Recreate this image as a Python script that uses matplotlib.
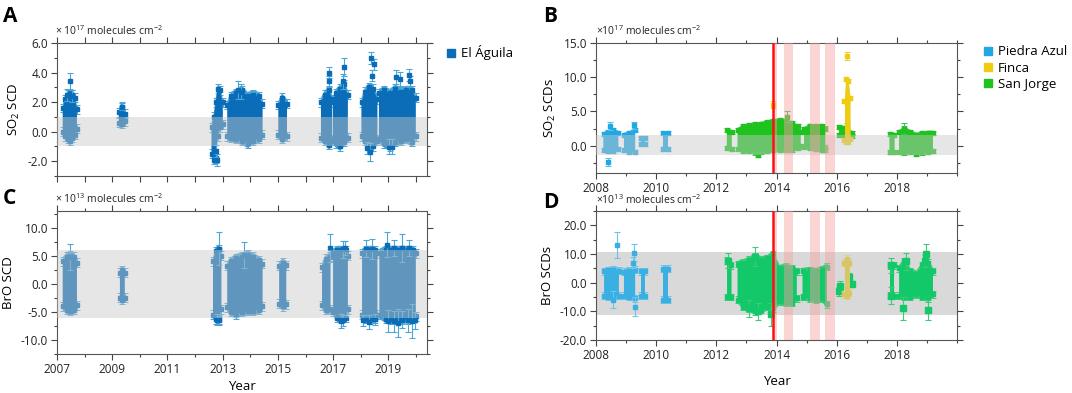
import numpy as np
import matplotlib
matplotlib.use("Agg")
import matplotlib.pyplot as plt
from matplotlib.lines import Line2D
from matplotlib.ticker import MultipleLocator, FormatStrFormatter

plt.rcParams['font.family'] = ['Open Sans', 'DejaVu Sans']
plt.rcParams['mathtext.default'] = 'regular'

nan = np.nan

# ---- Panel A: SO2 SCD, El Aguila (x 1e17), cluster envelopes separated by nan
a_t  = [2007.21, 2007.3, 2007.4, 2007.47, 2007.55, 2007.65, 2007.72, nan,
        2009.24, 2009.35, 2009.47, nan,
        2012.6, 2012.68, 2012.75, 2012.82, 2012.9, 2013.0, nan,
        2013.17, 2013.3, 2013.5, 2013.7, 2013.9, 2014.1, 2014.3, 2014.44, nan,
        2015.02, 2015.15, 2015.33, nan,
        2016.56, 2016.7, 2016.85, 2016.96, nan,
        2016.99, 2017.1, 2017.25, 2017.4, 2017.53, nan,
        2018.03, 2018.15, 2018.3, 2018.45, 2018.6, nan,
        2018.66, 2018.85, 2019.05, 2019.25, 2019.45, 2019.65, 2019.85, 2019.99]
a_hi = [1.6, 2.2, 2.5, 2.6, 2.5, 2.3, 1.5, nan,
        1.3, 1.7, 1.2, nan,
        0.3, 1.0, 2.0, 2.9, 2.8, 2.0, nan,
        1.8, 2.4, 2.6, 2.8, 2.4, 2.5, 2.4, 1.9, nan,
        1.8, 2.3, 1.9, nan,
        2.0, 2.5, 2.8, 2.2, nan,
        2.0, 2.6, 2.9, 3.2, 2.5, nan,
        2.0, 2.7, 3.0, 2.9, 2.2, nan,
        2.6, 2.8, 2.6, 2.9, 2.7, 2.8, 2.8, 2.3]
a_lo = [0.0, -0.3, -0.5, -0.6, -0.4, -0.2, 0.2, nan,
        0.6, 0.55, 0.7, nan,
        -1.5, -1.9, -1.8, -0.3, 0.3, 0.5, nan,
        -0.3, -0.4, -0.5, -0.6, -0.8, -0.6, -0.5, -0.2, nan,
        -0.2, -0.5, -0.3, nan,
        -0.4, -0.6, -0.9, -0.6, nan,
        -0.5, -0.8, -1.0, -0.7, -0.4, nan,
        -0.3, -0.6, -0.9, -1.0, -0.6, nan,
        -0.5, -0.8, -1.0, -0.7, -0.6, -0.5, -0.7, -0.3]
a_err = 0.3
a_pt_t = [2007.48, 2007.35, 2007.55, 2009.35, 2012.78, 2012.76, 2013.55, 2013.65,
          2016.84, 2016.84, 2017.39, 2017.37, 2018.36, 2018.48, 2018.42,
          2018.24, 2018.33, 2019.02, 2019.15, 2019.27, 2019.42, 2019.75, 2019.78]
a_pt_y = [3.4, 2.5, 2.4, 1.7, -1.9, -1.3, 2.8, 2.7,
          4.0, 3.4, 4.4, 3.4, 4.97, 4.55, 3.8,
          -1.08, -1.36, -1.03, -1.03, 3.7, 3.56, 3.86, 3.4]
a_pt_e = [0.6, 0.4, 0.4, 0.25, 0.4, 0.4, 0.6, 0.5,
          0.4, 0.4, 0.6, 0.5, 0.4, 0.4, 0.4,
          0.4, 0.6, 0.5, 0.5, 0.5, 0.5, 0.4, 0.4]

# ---- Panel C: BrO SCD, El Aguila (x 1e13)
c_t  = [2007.21, 2007.35, 2007.47, 2007.6, 2007.72, nan,
        2009.28, 2009.37, 2009.45, nan,
        2012.65, 2012.75, 2012.85, 2012.95, nan,
        2013.17, 2013.3, 2013.5, 2013.7, 2013.9, 2014.1, 2014.3, 2014.44, nan,
        2015.05, 2015.18, 2015.3, nan,
        2016.6, 2016.75, 2016.9, nan,
        2017.0, 2017.15, 2017.3, 2017.45, 2017.53, nan,
        2018.05, 2018.2, 2018.35, 2018.5, 2018.6, nan,
        2018.68, 2018.9, 2019.1, 2019.3, 2019.5, 2019.7, 2019.9, 2019.99]
c_hi = [4.0, 4.8, 5.0, 4.8, 3.8, nan,
        2.0, 2.4, 2.0, nan,
        4.0, 5.8, 6.2, 5.0, nan,
        3.2, 4.0, 4.6, 4.8, 5.2, 4.8, 4.2, 3.6, nan,
        3.2, 3.8, 3.3, nan,
        3.0, 4.5, 4.8, nan,
        5.5, 6.0, 6.0, 6.0, 5.0, nan,
        5.5, 6.0, 6.0, 6.0, 5.5, nan,
        5.5, 6.0, 6.0, 6.0, 6.0, 6.0, 6.0, 5.5]
c_lo = [-4.0, -4.6, -4.8, -4.6, -3.8, nan,
        -2.5, -2.8, -2.5, nan,
        -5.5, -6.3, -6.3, -4.5, nan,
        -4.2, -5.0, -5.4, -5.0, -4.8, -4.8, -4.6, -4.0, nan,
        -3.5, -4.0, -3.6, nan,
        -3.8, -4.6, -4.5, nan,
        -5.0, -6.0, -6.2, -6.0, -4.5, nan,
        -5.5, -6.2, -6.3, -6.2, -5.5, nan,
        -5.5, -6.2, -6.3, -6.3, -6.3, -6.3, -6.2, -5.8]
c_err = 0.8
c_pt_t = [2007.47, 2013.78, 2012.88, 2012.8, 2012.85, 2016.88, 2017.35, 2017.42,
          2017.3, 2017.35, 2018.2, 2018.4, 2018.1, 2018.3, 2018.5,
          2018.95, 2019.2, 2019.5, 2019.75, 2019.0, 2019.2, 2019.35,
          2019.5, 2019.7, 2019.85, 2019.95]
c_pt_y = [4.8, 5.2, 6.3, -6.4, -6.5, 6.4, 6.2, 6.4,
          -6.6, -6.5, 6.3, 6.2, -6.5, -6.8, -6.3,
          7.0, 6.4, 6.4, 6.4, -6.6, -6.7, -6.9,
          -6.4, -6.5, -6.6, -6.5]
c_pt_e = [2.4, 2.3, 3.0, 1.0, 0.8, 2.5, 1.5, 1.2,
          1.3, 1.0, 1.5, 1.8, 1.0, 1.2, 1.0,
          2.2, 1.5, 2.5, 1.5, 2.0, 1.8, 2.5,
          1.5, 2.0, 3.0, 1.5]

# ---- Panel B: SO2 SCDs (x 1e17)
b_pa_t  = [2008.25, 2008.4, 2008.55, 2008.74, nan, 2008.93, 2009.1, 2009.3, nan,
           2009.5, 2009.63, nan, 2010.24, 2010.4]
b_pa_hi = [1.7, 2.0, 2.3, 1.9, nan, 1.6, 1.8, 2.3, nan, 1.1, 1.1, nan, 1.8, 1.8]
b_pa_lo = [-0.6, -0.8, -0.8, -0.5, nan, -0.6, -0.9, -0.9, nan, 0.3, 0.3, nan, -0.5, -0.5]
b_pa_pt_t = [2008.45, 2008.4, 2009.25]
b_pa_pt_y = [2.9, -2.4, 3.0]
b_pa_pt_e = [0.6, 0.6, 0.5]

b_fi_t  = [2016.26, 2016.3, 2016.38, 2016.44]
b_fi_hi = [6.5, 9.7, 9.5, 7.0]
b_fi_lo = [0.8, 0.5, 0.5, 1.0]
b_fi_pt_t = [2016.33, 2013.88]
b_fi_pt_y = [13.1, 6.0]
b_fi_pt_e = [0.6, 0.5]

b_sj_t  = [2012.35, 2012.51, nan,
           2012.71, 2012.9, 2013.1, 2013.3, 2013.5, 2013.7, 2013.9, 2014.1, 2014.3,
           2014.5, 2014.7, 2014.8, nan,
           2014.92, 2015.1, 2015.3, 2015.5, 2015.62, nan,
           2016.08, 2016.2, 2016.28, 2016.38, 2016.5, nan,
           2017.76, 2017.92, nan,
           2018.08, 2018.25, 2018.45, 2018.65, 2018.85, 2019.05, 2019.2]
b_sj_hi = [2.3, 2.0, nan,
           2.3, 2.8, 3.0, 3.1, 3.2, 3.4, 3.6, 3.7, 3.6, 3.3, 2.8, 2.0, nan,
           2.4, 2.9, 2.8, 2.9, 2.5, nan,
           2.7, 2.6, 2.2, 2.0, 1.8, nan,
           1.7, 1.6, nan,
           2.0, 2.5, 2.0, 1.6, 1.8, 1.9, 1.9]
b_sj_lo = [-0.4, -0.5, nan,
           -0.5, -0.8, -0.8, -1.0, -0.9, -0.8, -0.7, -0.6, -0.7, -0.6, -0.4, 0.0, nan,
           -0.2, -0.4, -0.5, -0.6, -0.2, nan,
           1.5, 1.5, 1.5, 1.5, 1.4, nan,
           -0.9, -0.9, nan,
           -0.9, -1.0, -0.9, -1.2, -1.0, -0.9, -0.8]
b_sj_pt_t = [2014.35, 2013.4, 2015.25, 2015.6, 2016.35, 2018.25]
b_sj_pt_y = [4.2, -1.3, -0.4, -0.7, 2.7, 2.5]
b_sj_pt_e = [0.8, 0.4, 0.3, 0.3, 0.6, 0.8]
b_err = 0.3

# ---- Panel D: BrO SCDs (x 1e13)
d_pa_t  = [2008.27, 2008.4, 2008.55, 2008.76, nan, 2008.93, 2009.1, 2009.3, nan,
           2009.5, 2009.63, nan, 2010.24, 2010.4]
d_pa_hi = [4.0, 4.3, 4.5, 4.2, nan, 3.8, 4.2, 4.5, nan, 4.0, 4.0, nan, 4.8, 4.8]
d_pa_lo = [-4.5, -5.0, -5.0, -4.5, nan, -4.5, -5.0, -5.5, nan, -4.5, -4.5, nan, -6.0, -6.0]
d_pa_pt_t = [2008.7, 2009.25, 2009.28, 2009.22, 2008.55]
d_pa_pt_y = [13.1, 10.5, -8.4, 7.0, -6.0]
d_pa_pt_e = [4.5, 3.0, 3.3, 2.0, 3.0]

d_fi_t  = [2016.26, 2016.34, 2016.42]
d_fi_hi = [7.0, 8.3, 7.0]
d_fi_lo = [-4.0, -4.5, -3.5]

d_sj_t  = [2012.36, 2012.5, nan,
           2012.71, 2012.9, 2013.1, 2013.3, 2013.5, 2013.7, 2013.88, 2014.1, 2014.3,
           2014.5, 2014.67, nan,
           2014.87, 2015.1, 2015.3, 2015.5, 2015.67, nan,
           2017.76, 2017.92, nan,
           2018.08, 2018.25, 2018.45, 2018.65, 2018.85, 2019.05, 2019.2]
d_sj_hi = [7.7, 6.0, nan,
           6.5, 7.0, 8.0, 9.0, 8.0, 8.5, 10.0, 5.0, 5.5, 5.0, 4.0, nan,
           4.0, 4.3, 4.0, 4.5, 5.5, nan,
           6.0, 6.0, nan,
           5.0, 7.5, 4.0, 3.0, 6.0, 7.0, 4.0]
d_sj_lo = [-5.0, -5.0, nan,
           -6.0, -8.5, -9.0, -10.0, -9.5, -8.5, -9.0, -6.5, -7.0, -7.0, -5.5, nan,
           -5.0, -5.5, -6.0, -5.5, -7.5, nan,
           -4.5, -4.5, nan,
           -4.5, -5.0, -5.0, -4.0, -5.0, -5.5, -4.0]
d_sj_pt_t = [2012.38, 2013.3, 2013.4, 2013.82, 2013.1, 2017.8, 2017.8, 2018.22,
             2018.3, 2018.98, 2019.05, 2018.95, 2016.1, 2016.08, 2016.42, 2016.5]
d_sj_pt_y = [7.7, 9.0, -10.0, -11.0, -9.0, 6.0, -4.5, -9.0,
             7.5, 10.0, -9.5, 7.5, -1.0, -3.0, 2.0, -0.3]
d_sj_pt_e = [2.5, 3.3, 3.0, 4.0, 3.0, 2.5, 3.0, 4.0,
             3.0, 3.5, 3.5, 2.0, 1.5, 1.5, 1.5, 1.0]
d_err = 1.2

eruption = 2013.88
pink_spans = [(2013.88, 2014.02), (2014.25, 2014.56), (2015.12, 2015.43), (2015.61, 2015.93)]

# colours
ag_c, ag_e = "#0b6db7", "#4aa5d8"
pa_c, pa_e = "#1fa8e4", "#5cc0ea"
fi_c, fi_e = "#f0cc10", "#e8d060"
sj_c, sj_e = "#1ec31e", "#3cc060"


def cloud(ax, t, lo, hi, err, c, ec, ms=3, z=2):
    t, lo, hi = np.array(t), np.array(lo), np.array(hi)
    ax.fill_between(t, lo - err, hi + err, color=ec, lw=0, zorder=z)
    ax.fill_between(t, lo, hi, color=c, lw=0, zorder=z + 0.1)
    # ragged edges: the envelope nodes themselves as error-bar points
    ax.errorbar(t, hi, yerr=err, fmt='s', ms=ms, color=c, ecolor=ec, elinewidth=0.7,
                capsize=2, capthick=0.7, zorder=z + 0.05)
    ax.errorbar(t, lo, yerr=err, fmt='s', ms=ms, color=c, ecolor=ec, elinewidth=0.7,
                capsize=2, capthick=0.7, zorder=z + 0.05)


def points(ax, t, y, e, c, ec, ms=3.5, z=2.5):
    ax.errorbar(t, y, yerr=e, fmt='s', ms=ms, color=c, ecolor=ec, elinewidth=0.8,
                capsize=2.5, capthick=0.8, zorder=z)


def style(ax, xlim, ylim, xmaj, ymaj, ymin, xlabels=True):
    ax.set_xlim(*xlim)
    ax.set_ylim(*ylim)
    ax.xaxis.set_major_locator(MultipleLocator(xmaj))
    ax.xaxis.set_minor_locator(MultipleLocator(1))
    ax.yaxis.set_major_locator(MultipleLocator(ymaj))
    ax.yaxis.set_minor_locator(MultipleLocator(ymin))
    ax.yaxis.set_major_formatter(FormatStrFormatter('%.1f'))
    ax.tick_params(which='both', direction='out', top=True, right=True,
                   labelsize=8.5, color='#444444', labelcolor='#222222', width=0.8, pad=2.5)
    ax.tick_params(which='major', length=4)
    ax.tick_params(which='minor', length=2.5)
    if not xlabels:
        ax.tick_params(axis='x', labelbottom=False)
    for s in ax.spines.values():
        s.set_color('#555555')
        s.set_linewidth(0.8)


fig = plt.figure(figsize=(10.72, 3.93), dpi=100)
axA = fig.add_axes([57/1072, 1-176/393, 370/1072, 133/393])
axC = fig.add_axes([57/1072, 1-354/393, 370/1072, 143/393])
axB = fig.add_axes([596/1072, 1-173/393, 361/1072, 130/393])
axD = fig.add_axes([596/1072, 1-340/393, 361/1072, 129/393])

band_alpha = 0.45

# A
cloud(axA, a_t, a_lo, a_hi, a_err, ag_c, ag_e)
points(axA, a_pt_t, a_pt_y, a_pt_e, ag_c, ag_e)
axA.axhspan(-1.0, 1.0, color='#c8c8c8', alpha=band_alpha, lw=0, zorder=3)
style(axA, (2007, 2020.4), (-3, 6), 2, 2, 1, xlabels=False)
axA.xaxis.set_major_locator(MultipleLocator(1))
axA.set_ylabel('SO$_2$ SCD', fontsize=9.5, labelpad=4)

# C
cloud(axC, c_t, c_lo, c_hi, c_err, ag_c, ag_e)
points(axC, c_pt_t, c_pt_y, c_pt_e, ag_c, ag_e)
axC.axhspan(-6.0, 6.0, color='#c8c8c8', alpha=band_alpha, lw=0, zorder=3)
style(axC, (2007, 2020.4), (-12.5, 13.0), 2, 5, 2.5)
axC.set_xticks(np.arange(2007, 2021, 2))
axC.set_ylabel('BrO SCD', fontsize=9.5, labelpad=4)
axC.set_xlabel('Year', fontsize=9.5, labelpad=3)

# B
cloud(axB, b_pa_t, b_pa_lo, b_pa_hi, b_err, pa_c, pa_e, ms=2.5)
points(axB, b_pa_pt_t, b_pa_pt_y, b_pa_pt_e, pa_c, pa_e, ms=3)
cloud(axB, b_sj_t, b_sj_lo, b_sj_hi, b_err, sj_c, sj_e, ms=2.5)
points(axB, b_sj_pt_t, b_sj_pt_y, b_sj_pt_e, sj_c, sj_e, ms=3)
cloud(axB, b_fi_t, b_fi_lo, b_fi_hi, b_err, fi_c, fi_e, ms=2.5, z=2.6)
points(axB, b_fi_pt_t, b_fi_pt_y, b_fi_pt_e, fi_c, fi_e, ms=3, z=2.7)
axB.axhspan(-1.3, 1.5, color='#c8c8c8', alpha=band_alpha, lw=0, zorder=3)
style(axB, (2008, 2020), (-4, 15), 2, 5, 2.5)
axB.set_xticks(np.arange(2008, 2020, 2))

# D
axD.axhspan(-11.3, 10.8, color='#d9d9d9', lw=0, zorder=0)
cloud(axD, d_pa_t, d_pa_lo, d_pa_hi, d_err, "#3aafe2", "#6cc4ec", ms=2.5)
points(axD, d_pa_pt_t, d_pa_pt_y, d_pa_pt_e, "#3aafe2", "#6cc4ec", ms=3)
cloud(axD, d_sj_t, d_sj_lo, d_sj_hi, d_err, "#12c868", "#3ccc78", ms=3)
points(axD, d_sj_pt_t, d_sj_pt_y, d_sj_pt_e, "#12c868", "#3ccc78", ms=4)
cloud(axD, d_fi_t, d_fi_lo, d_fi_hi, d_err, "#d8c666", "#e0d08a", ms=2.5, z=2.6)
style(axD, (2008, 2020), (-20, 25), 2, 10, 5)
axD.set_xticks(np.arange(2008, 2020, 2))
axD.set_xlabel('Year', fontsize=9.5, labelpad=9)

for ax, lab in [(axB, 'SO$_2$ SCDs'), (axD, 'BrO SCDs')]:
    for s0, s1 in pink_spans:
        ax.axvspan(s0, s1, color='#f7a0a0', alpha=0.45, lw=0, zorder=4)
    ax.axvline(eruption, color='#ff1010', lw=1.8, zorder=5)
    ax.set_ylabel(lab, fontsize=9.5, labelpad=4)

# unit labels
unit_kw = dict(fontsize=7.5, color='#222222', va='center', ha='left')
axA.text(-0.005, 1.09, r'$\times$ 10$^{17}$ molecules cm$^{-2}$', transform=axA.transAxes, **unit_kw)
axC.text(-0.005, 1.08, r'$\times$ 10$^{13}$ molecules cm$^{-2}$', transform=axC.transAxes, **unit_kw)
axB.text(0.0, 1.09, r'$\times$10$^{17}$ molecules cm$^{-2}$', transform=axB.transAxes, **unit_kw)
axD.text(0.0, 1.085, r'$\times$10$^{13}$ molecules cm$^{-2}$', transform=axD.transAxes, **unit_kw)

# panel letters
for x, y, s in [(3, 16, 'A'), (3, 199, 'C'), (543, 17, 'B'), (543, 203, 'D')]:
    fig.text(x/1072, 1-y/393, s, fontsize=15, fontweight='bold', va='center', ha='left')

# legends
fig.legend(handles=[Line2D([], [], ls='none', marker='s', ms=6, color=ag_c, label='El Águila')],
           loc='upper left', bbox_to_anchor=(440/1072, 1-40/393), frameon=False,
           fontsize=9.5, handlelength=0.8, handletextpad=0.4, borderaxespad=0)
fig.legend(handles=[Line2D([], [], ls='none', marker='s', ms=6, color=c, label=l)
                    for c, l in [(pa_c, 'Piedra Azul'), (fi_c, 'Finca'), (sj_c, 'San Jorge')]],
           loc='upper left', bbox_to_anchor=(977/1072, 1-40/393), frameon=False,
           fontsize=9.5, handlelength=0.8, handletextpad=0.4, borderaxespad=0, labelspacing=0.25)

fig.savefig('out.png', dpi=100)
